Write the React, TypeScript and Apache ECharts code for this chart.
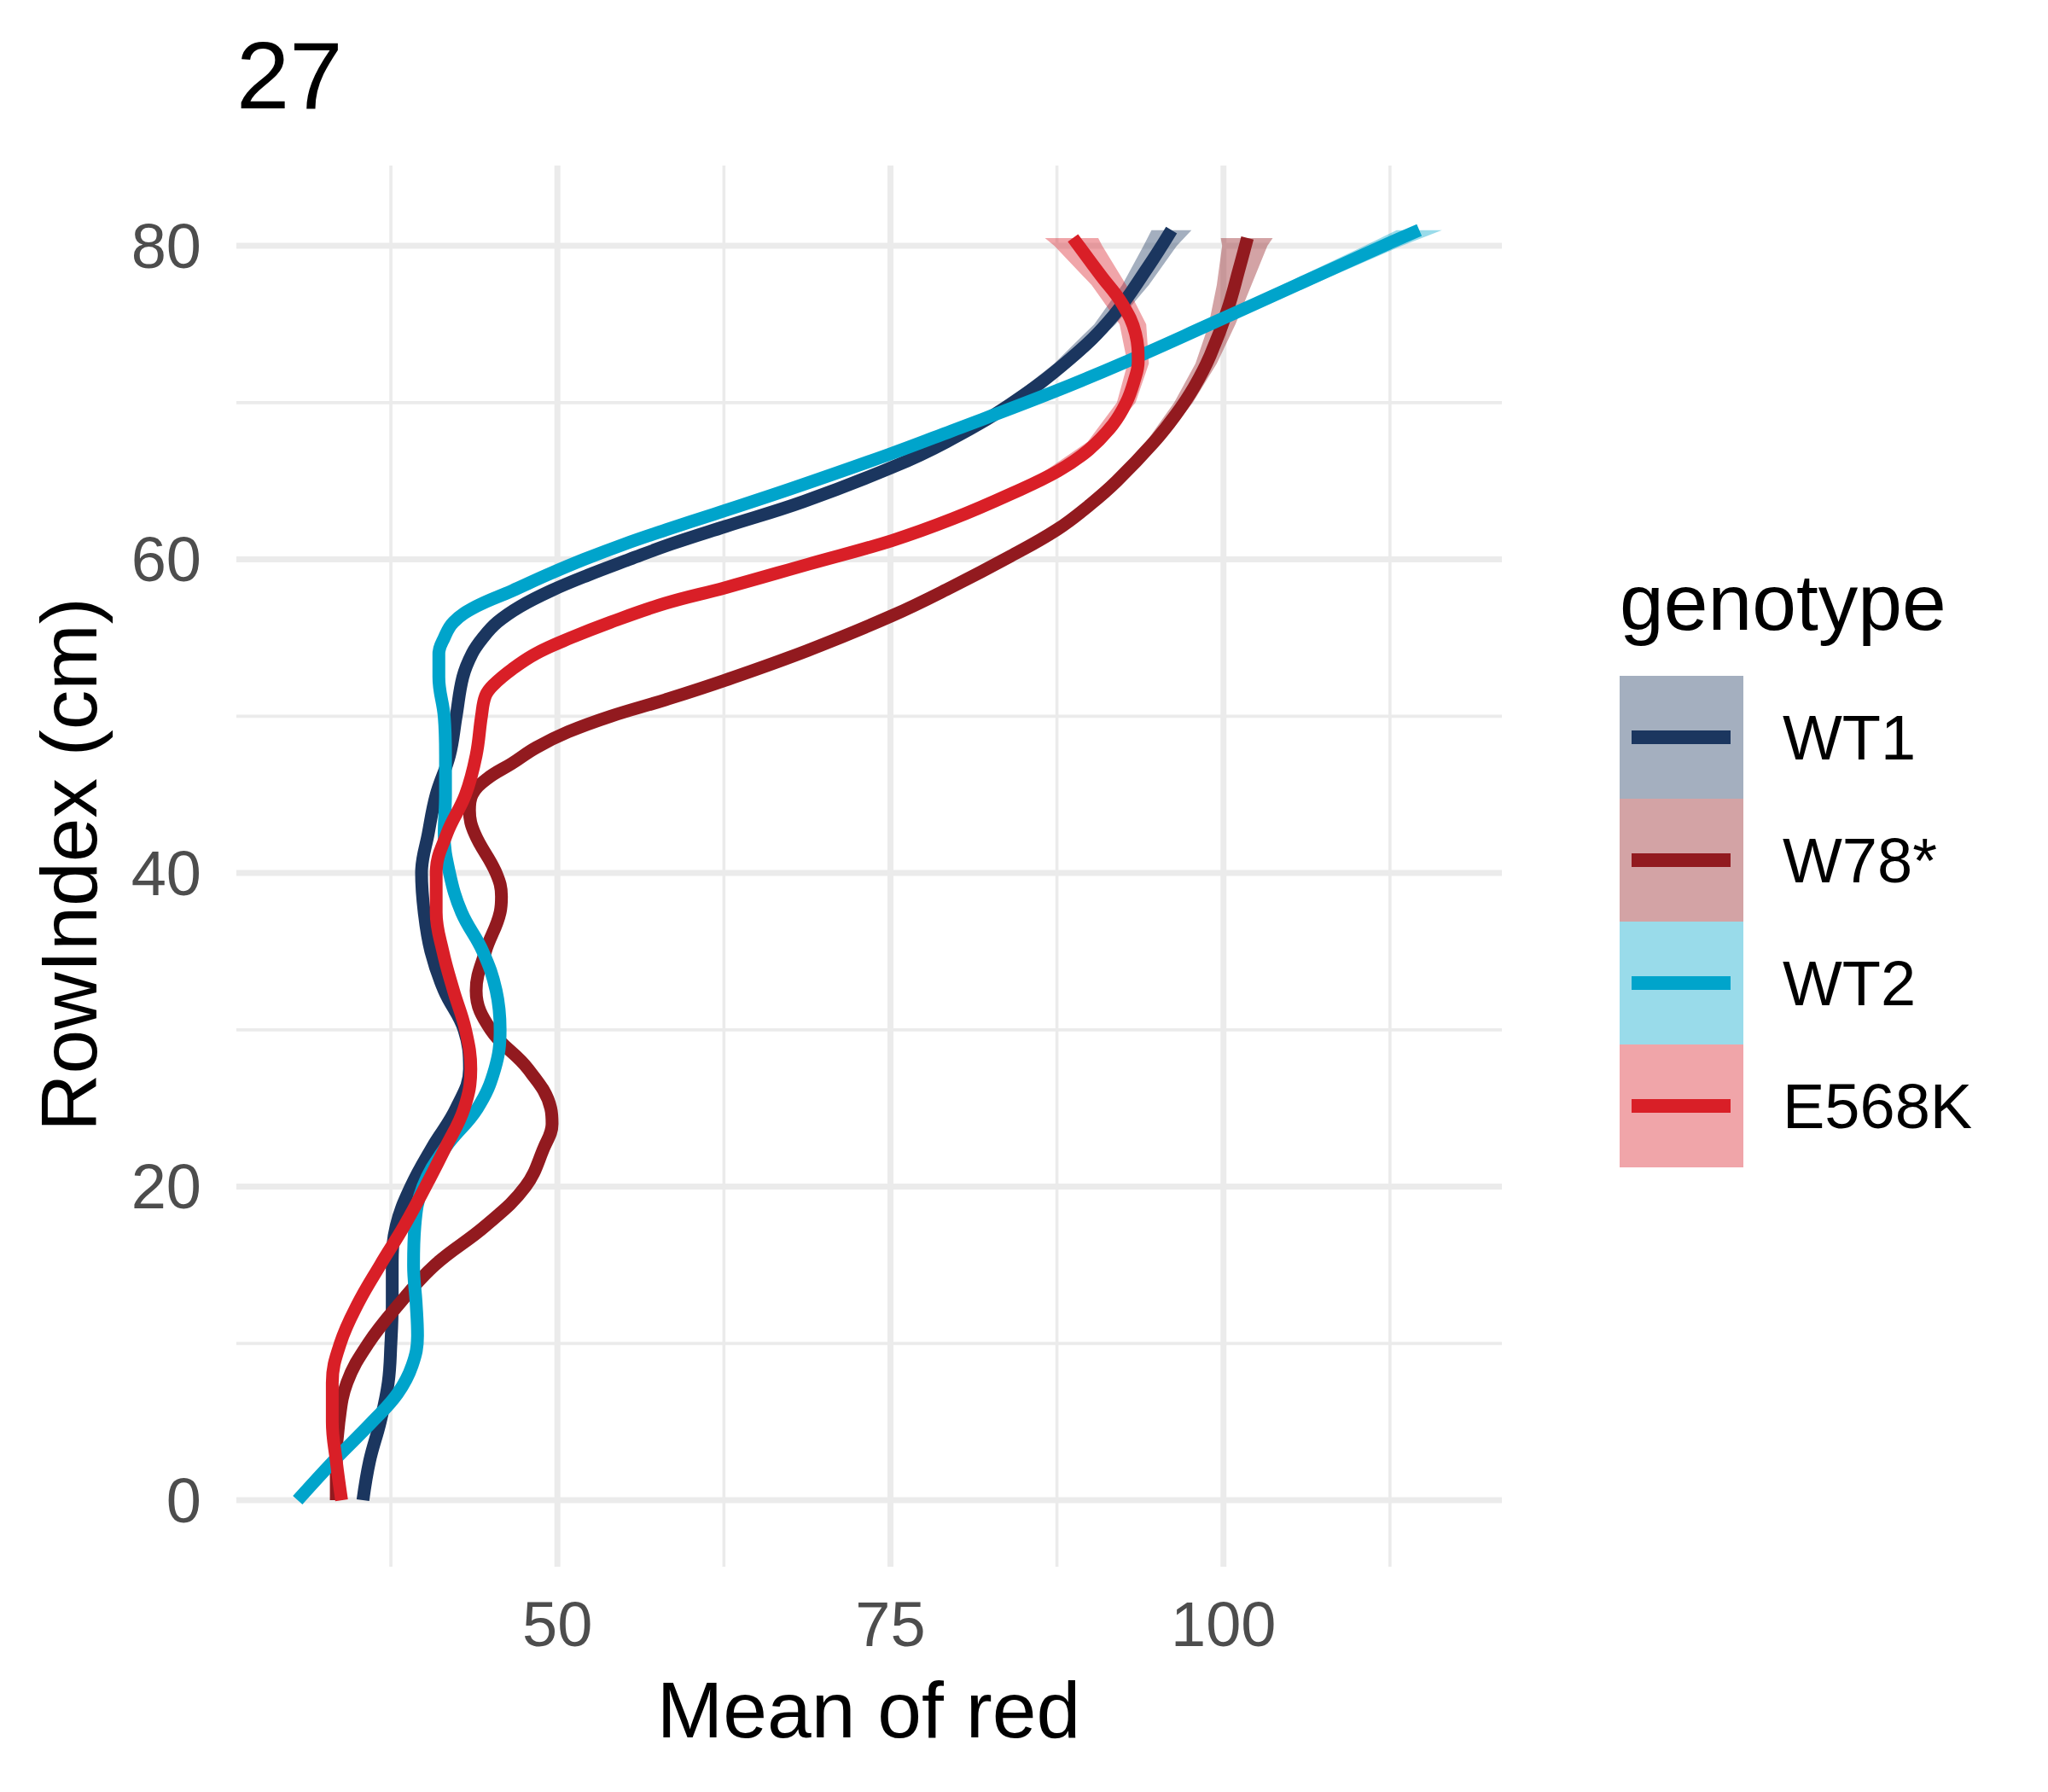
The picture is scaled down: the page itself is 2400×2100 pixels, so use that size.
import React, { useEffect, useRef } from "react";
import * as echarts from "echarts";

// ---------- data ----------
const genotypes = ["WT1", "W78*", "WT2", "E568K"];
const lineColors = ["#1B365F", "#921A1F", "#00A4CB", "#D91F27"];
const ribbonFills = [
  "rgba(27,54,95,0.4)",
  "rgba(146,26,31,0.4)",
  "rgba(0,164,203,0.4)",
  "rgba(217,31,39,0.4)",
];

// WT1: RowIndex (y) and smoothed mean of red (x)
const wt1Y = [0, 2.5, 5, 7.5, 10, 12.5, 15, 17.5, 20, 22.5, 25, 27.5, 30, 32.5, 35, 37.5, 40, 42.5, 45, 47.5, 50, 52.5, 54, 55, 56, 57, 58, 59, 60, 61, 62.1, 63.7, 65.9, 67.5, 69.9, 72.8, 75.5, 78.6, 81];
const wt1X = [35.4, 35.9, 36.7, 37.3, 37.5, 37.6, 37.6, 37.9, 39.0, 40.6, 42.4, 43.4, 43.0, 41.5, 40.5, 40.0, 39.8, 40.3, 40.9, 41.9, 42.4, 42.9, 43.6, 44.4, 45.5, 47.2, 49.5, 52.3, 55.4, 58.6, 62.6, 68.5, 75.2, 79.2, 84.0, 88.5, 91.7, 94.3, 96.1];

// W78*
const w78Y = [0, 2.5, 5, 7.5, 10, 12.5, 15, 17.5, 20, 22.5, 24, 25, 27.5, 30, 32.5, 35, 37.5, 38.5, 40, 42.5, 44, 45, 46, 47, 48, 49, 50, 51.05, 52.3, 54.2, 56.4, 58.2, 60.2, 61.9, 63.5, 65, 67.5, 69.2, 71, 73, 75.9, 78.6, 80.5];
const w78X = [33.4, 33.4, 33.6, 34.2, 35.8, 38.1, 40.8, 44.6, 47.6, 49.0, 49.6, 49.5, 47.8, 45.0, 43.9, 44.6, 45.7, 45.8, 45.4, 43.8, 43.4, 43.6, 44.7, 46.6, 48.4, 50.8, 54.0, 58.1, 62.6, 68.8, 75.1, 79.5, 84.0, 87.5, 90.0, 92.0, 94.8, 96.4, 97.8, 99.0, 100.3, 101.2, 101.8];

// WT2
const wt2Y = [0, 2.5, 5, 6.8, 8.6, 10.5, 12.5, 15, 17.5, 20, 22.5, 25, 27.5, 30, 32.5, 35, 37.5, 40, 42.5, 45, 47.5, 50, 52.5, 54, 55, 56, 57, 58, 59, 60, 61, 61.9, 62.9, 64.5, 66.7, 68.2, 70.6, 72.5, 75, 77.5, 80, 81];
const wt2X = [30.5, 33.2, 36.1, 38.0, 39.1, 39.5, 39.4, 39.2, 39.3, 39.9, 41.6, 44.0, 45.3, 45.7, 45.4, 44.4, 42.8, 41.9, 41.5, 41.6, 41.6, 41.5, 41.1, 41.1, 41.5, 42.2, 43.9, 46.6, 49.2, 52.0, 55.1, 58.2, 61.8, 67.5, 74.9, 79.6, 87.0, 92.4, 99.0, 105.5, 112.0, 114.7];

// E568K
const e568Y = [0, 2.5, 5, 7.5, 10, 12.5, 15, 17.5, 20, 22.5, 25, 27.5, 30, 32.5, 35, 37.5, 40, 42.5, 45, 47.5, 50, 51.3, 52, 53, 54, 55, 56, 57.2, 58.2, 59.7, 61.2, 62.6, 64.2, 65.65, 67, 68.6, 70, 71.4, 72.6, 74.4, 76.3, 78.1, 80.5];
const e568X = [33.8, 33.4, 33.1, 33.1, 33.7, 35.0, 36.7, 38.5, 40.1, 41.6, 43.0, 43.5, 43.1, 42.2, 41.4, 40.9, 40.9, 41.7, 43.1, 43.9, 44.3, 44.6, 45.2, 46.6, 48.4, 51.0, 54.0, 58.1, 62.6, 68.85, 75.1, 79.7, 84.1, 87.6, 89.9, 91.7, 92.7, 93.3, 93.6, 93.4, 92.4, 90.8, 88.7];

// confidence ribbons (upper part, where they are visible)
const wt1RibY = [60, 62.5, 65, 67.5, 70, 72.5, 75, 77.5, 80, 81];
const wt1RibLo = [54.9, 63.6, 72.0, 78.7, 83.6, 87.3, 90.3, 92.4, 94.0, 94.6];
const wt1RibHi = [55.9, 64.6, 73.0, 79.7, 84.8, 88.7, 91.9, 94.4, 96.5, 97.6];

const w78RibY = [60, 62.5, 65, 67.5, 70, 72.5, 75, 77.5, 80, 80.5];
const w78RibLo = [83.1, 88.0, 91.5, 94.2, 96.3, 97.9, 98.9, 99.5, 99.9, 99.8];
const w78RibHi = [84.1, 89.0, 92.5, 95.4, 97.7, 99.5, 100.9, 102.1, 103.3, 103.7];

const wt2RibY = [60, 62.5, 65, 67.5, 70, 72.5, 75, 77.5, 80, 81];
const wt2RibLo = [51.5, 59.9, 68.7, 76.9, 84.5, 91.7, 98.1, 104.4, 110.6, 113.0];
const wt2RibHi = [52.5, 60.9, 69.7, 77.9, 85.7, 93.1, 99.9, 106.6, 113.4, 116.4];

const e568RibY = [60, 62.5, 65, 67.5, 70, 72.5, 75, 77.5, 80, 80.5];
const e568RibLo = [69.6, 78.9, 85.5, 89.8, 92.0, 92.8, 92.2, 90.1, 87.3, 86.6];
const e568RibHi = [70.6, 79.9, 86.5, 91.0, 93.4, 94.4, 94.2, 92.7, 90.9, 90.6];

const xTickLabels = [50, 75, 100];
const yTickLabels = [0, 20, 40, 60, 80];
const xMajorGrid = [50, 75, 100];
const xMinorGrid = [37.5, 62.5, 87.5, 112.5];
const yMajorGrid = [0, 20, 40, 60, 80];
const yMinorGrid = [10, 30, 50, 70];

const titleText = "27";
const xTitle = "Mean of red";
const yTitle = "RowIndex (cm)";
const legendTitle = "genotype";

// ---------- helpers ----------
const FONT = "'Liberation Sans', Arial, Helvetica, sans-serif";

const lineData = [
  { x: wt1X, y: wt1Y },
  { x: w78X, y: w78Y },
  { x: wt2X, y: wt2Y },
  { x: e568X, y: e568Y },
];
const ribbons = [
  { y: wt1RibY, lo: wt1RibLo, hi: wt1RibHi },
  { y: w78RibY, lo: w78RibLo, hi: w78RibHi },
  { y: wt2RibY, lo: wt2RibLo, hi: wt2RibHi },
  { y: e568RibY, lo: e568RibLo, hi: e568RibHi },
];

function gridSeries(values: number[], vertical: boolean, width: number) {
  return {
    type: "custom",
    z: 1,
    silent: true,
    clip: false,
    data: values.map((v) => (vertical ? [v, 40] : [60, v])),
    renderItem: (params: any, api: any) => {
      const cs = params.coordSys;
      const p = api.coord([api.value(0), api.value(1)]);
      const shape = vertical
        ? { x1: p[0], y1: cs.y, x2: p[0], y2: cs.y + cs.height }
        : { x1: cs.x, y1: p[1], x2: cs.x + cs.width, y2: p[1] };
      return { type: "line", shape, style: { stroke: "#EBEBEB", lineWidth: width } };
    },
  };
}

function ribbonSeries(i: number) {
  const r = ribbons[i];
  return {
    type: "custom",
    name: genotypes[i],
    silent: true,
    data: [[r.lo[0], r.y[0]]],
    renderItem: (_params: any, api: any) => {
      const pts: number[][] = [];
      for (let k = 0; k < r.y.length; k++) pts.push(api.coord([r.lo[k], r.y[k]]));
      for (let k = r.y.length - 1; k >= 0; k--) pts.push(api.coord([r.hi[k], r.y[k]]));
      return { type: "polygon", shape: { points: pts }, style: { fill: ribbonFills[i] } };
    },
  };
}

function lineSeries(i: number) {
  const d = lineData[i];
  return {
    type: "line",
    name: genotypes[i],
    data: d.x.map((xv, k) => [xv, d.y[k]]),
    smooth: 0.4,
    symbol: "none",
    showSymbol: false,
    silent: true,
    lineStyle: { color: lineColors[i], width: 15, cap: "butt", join: "round" },
  };
}

function legendGraphics() {
  const els: any[] = [];
  els.push({
    type: "text",
    x: 1898,
    y: 706,
    style: {
      text: legendTitle,
      fontSize: 93,
      fontFamily: FONT,
      fill: "#000000",
      align: "left",
      verticalAlign: "middle",
      textAlign: "left",
      textVerticalAlign: "middle",
    },
  });
  genotypes.forEach((g, i) => {
    const top = 792 + i * 144;
    els.push({
      type: "rect",
      shape: { x: 1898, y: top, width: 145, height: 144 },
      style: { fill: ribbonFills[i] },
    });
    els.push({
      type: "line",
      shape: { x1: 1912, y1: top + 72, x2: 2028, y2: top + 72 },
      style: { stroke: lineColors[i], lineWidth: 16 },
    });
    els.push({
      type: "text",
      x: 2089,
      y: top + 72,
      style: {
        text: g,
        fontSize: 74,
        fontFamily: FONT,
        fill: "#000000",
        align: "left",
        verticalAlign: "middle",
        textAlign: "left",
        textVerticalAlign: "middle",
      },
    });
  });
  return els;
}

export default function App() {
  const ref = useRef<HTMLDivElement>(null);
  useEffect(() => {
    if (!ref.current) return;
    const chart = echarts.init(ref.current, null, { renderer: "svg" });
    const series: any[] = [
      gridSeries(xMinorGrid, true, 3.6),
      gridSeries(yMinorGrid, false, 3.6),
      gridSeries(xMajorGrid, true, 7),
      gridSeries(yMajorGrid, false, 7),
    ];
    for (let i = 0; i < genotypes.length; i++) {
      series.push(ribbonSeries(i));
      series.push(lineSeries(i));
    }
    const option: any = {
      animation: false,
      backgroundColor: "#FFFFFF",
      grid: { left: 277, top: 194, width: 1483, height: 1642, containLabel: false },
      xAxis: {
        type: "value",
        min: 25.9,
        max: 120.9,
        splitLine: { show: false },
        axisLine: { show: false },
        axisTick: { show: false },
        axisLabel: {
          customValues: xTickLabels,
          fontSize: 74,
          fontFamily: FONT,
          color: "#4D4D4D",
          margin: 30,
        },
      },
      yAxis: {
        type: "value",
        min: -4.24,
        max: 85.12,
        splitLine: { show: false },
        axisLine: { show: false },
        axisTick: { show: false },
        axisLabel: {
          customValues: yTickLabels,
          fontSize: 74,
          fontFamily: FONT,
          color: "#4D4D4D",
          margin: 41,
        },
      },
      series,
      graphic: [
        {
          type: "text",
          x: 277,
          y: 88,
          style: {
            text: titleText,
            fontSize: 112,
            fontFamily: FONT,
            fill: "#000000",
            align: "left",
            verticalAlign: "middle",
            textAlign: "left",
            textVerticalAlign: "middle",
          },
        },
        {
          type: "text",
          x: 1018,
          y: 2004,
          style: {
            text: xTitle,
            fontSize: 93,
            fontFamily: FONT,
            fill: "#000000",
            align: "center",
            verticalAlign: "middle",
            textAlign: "center",
            textVerticalAlign: "middle",
          },
        },
        {
          type: "text",
          x: 81,
          y: 1013,
          rotation: Math.PI / 2,
          style: {
            text: yTitle,
            fontSize: 93,
            fontFamily: FONT,
            fill: "#000000",
            align: "center",
            verticalAlign: "middle",
            textAlign: "center",
            textVerticalAlign: "middle",
          },
        },
        ...legendGraphics(),
      ],
    };
    chart.setOption(option);
    return () => chart.dispose();
  }, []);
  return (
    <div
      ref={ref}
      style={{ position: "absolute", left: 0, top: 0, width: 2400, height: 2100 }}
    />
  );
}
